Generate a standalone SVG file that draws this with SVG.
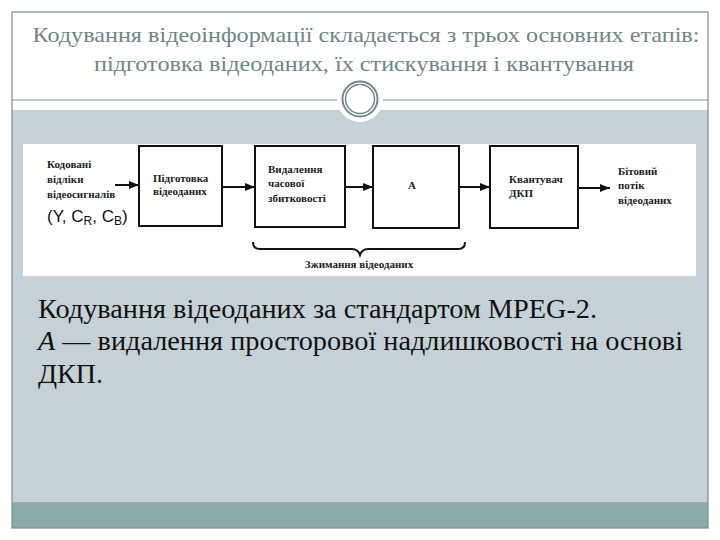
<svg xmlns="http://www.w3.org/2000/svg" width="720" height="540" viewBox="0 0 720 540">
<defs>
<style>
.hdr{font-family:'Liberation Serif',serif;font-size:22px;fill:#6f8685;text-anchor:middle}
.txt{font-family:'Liberation Serif',serif;font-size:28px;fill:#111}
.lbl{font-family:'Liberation Serif',serif;font-size:11px;font-weight:bold;fill:#222}
.box{fill:#fff;stroke:#111;stroke-width:2}
.con{stroke:#111;stroke-width:2;fill:none}
</style>
<marker id="ah" viewBox="0 0 10 10" refX="10" refY="5" markerWidth="5" markerHeight="5" orient="auto">
<path d="M0,1 L10,5 L0,9 Z" fill="#111"/>
</marker>
</defs>
<rect x="0" y="0" width="720" height="540" fill="#fff"/>
<rect x="12" y="110" width="696" height="392" fill="#c6d1d7"/>
<rect x="12" y="502" width="696" height="26" fill="#8caaa8"/>
<rect x="12" y="12" width="696" height="516" fill="none" stroke="#7d8c8c" stroke-width="1.2"/>
<line x1="12" y1="100" x2="708" y2="100" stroke="#7d8c8c" stroke-width="1.2"/>
<circle cx="360" cy="99" r="23" fill="#fff"/>
<circle cx="360" cy="99" r="17.5" fill="none" stroke="#6f8a89" stroke-width="2"/>
<circle cx="360" cy="99" r="14.5" fill="none" stroke="#6f8a89" stroke-width="1.5"/>
<text class="hdr" x="366" y="42" textLength="667" lengthAdjust="spacingAndGlyphs">Кодування відеоінформації складається з трьох основних етапів:</text>
<text class="hdr" x="364" y="71" textLength="540" lengthAdjust="spacingAndGlyphs">підготовка відеоданих, їх стискування і квантування</text>
<rect x="23" y="144" width="673" height="132" fill="#fff"/>
<g id="input">
<text class="lbl" x="47" y="168">Кодовані</text>
<text class="lbl" x="47" y="183">відліки</text>
<text class="lbl" x="47" y="198">відеосигналів</text>
<text x="47" y="222" font-family="'Liberation Sans', Arial, sans-serif" font-size="17" fill="#111">(Y, C<tspan font-size="12" dy="3">R</tspan><tspan dy="-3">, C</tspan><tspan font-size="12" dy="3">B</tspan><tspan dy="-3">)</tspan></text>
</g>
<g id="prep">
<rect class="box" x="139" y="146" width="83" height="80"/>
<text class="lbl" x="153" y="182">Підготовка</text>
<text class="lbl" x="153" y="195">відеоданих</text>
</g>
<g id="temporal">
<rect class="box" x="255" y="146" width="90" height="81"/>
<text class="lbl" x="268" y="173">Видалення</text>
<text class="lbl" x="268" y="187">часової</text>
<text class="lbl" x="268" y="202">збитковості</text>
</g>
<g id="a">
<rect class="box" x="373" y="146" width="86" height="82"/>
<text class="lbl" x="412" y="189" text-anchor="middle">А</text>
</g>
<g id="quant">
<rect class="box" x="490" y="146" width="88" height="82"/>
<text class="lbl" x="509" y="183">Квантувач</text>
<text class="lbl" x="509" y="197">ДКП</text>
</g>
<g id="output">
<text class="lbl" x="618" y="175">Бітовий</text>
<text class="lbl" x="618" y="189">потік</text>
<text class="lbl" x="618" y="204">відеоданих</text>
</g>
<g id="connectors">
<line class="con" x1="115" y1="185" x2="139" y2="185" marker-end="url(#ah)"/>
<line class="con" x1="222" y1="187" x2="255" y2="187" marker-end="url(#ah)"/>
<line class="con" x1="345" y1="187" x2="373" y2="187" marker-end="url(#ah)"/>
<line class="con" x1="459" y1="187" x2="490" y2="187" marker-end="url(#ah)"/>
<line class="con" x1="578" y1="188" x2="610" y2="188" marker-end="url(#ah)"/>
<path class="con" stroke-width="1.5" d="M253,242 Q253,249 260,249 L352,249 Q358,249 360,255 Q362,249 368,249 L458,249 Q465,249 465,242"/>
</g>
<text class="lbl" x="359" y="268" text-anchor="middle" font-size="10">Зжимання відеоданих</text>
<text class="txt" x="38" y="318" textLength="559" lengthAdjust="spacingAndGlyphs">Кодування відеоданих за стандартом MPEG-2.</text>
<text class="txt" x="38" y="350" textLength="645" lengthAdjust="spacingAndGlyphs"><tspan font-style="italic">A</tspan> — видалення просторової надлишковості на основі</text>
<text class="txt" x="38" y="383">ДКП.</text>
</svg>
